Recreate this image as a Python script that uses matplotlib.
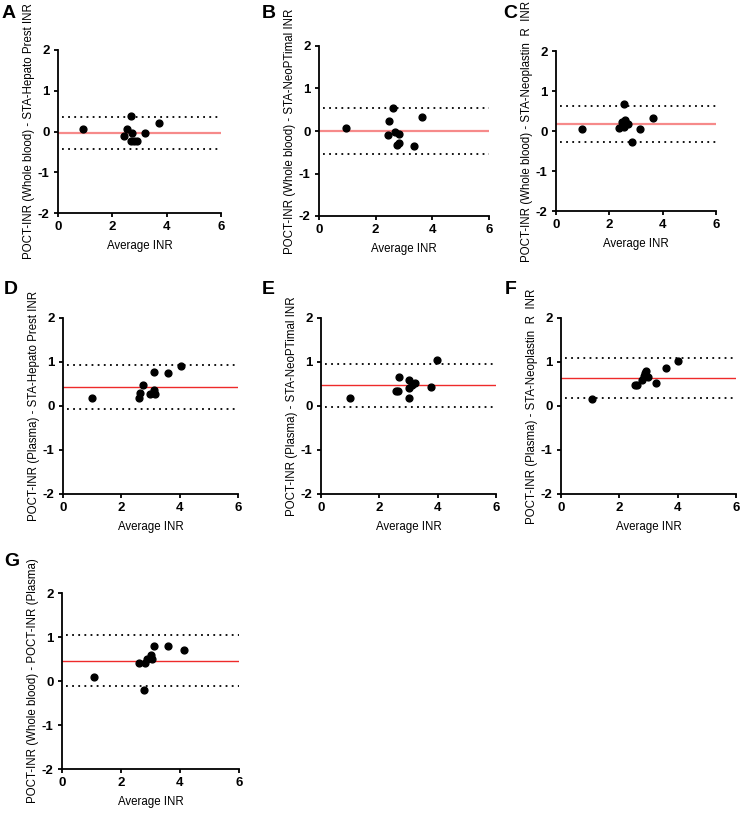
import matplotlib
matplotlib.use("Agg")
import matplotlib.pyplot as plt

plt.rcParams['font.family'] = ['Liberation Sans', 'DejaVu Sans']
plt.rcParams['axes.unicode_minus'] = False

# Bland-Altman data
a_avg = [0.93, 2.69, 3.70, 2.55, 2.71, 2.44, 3.22, 2.68, 2.79, 2.90]
a_diff = [0.07, 0.38, 0.20, 0.07, -0.03, -0.12, -0.04, -0.23, -0.23, -0.23]
a_lines = [-0.03, 0.36, -0.43]

b_avg = [0.94, 2.61, 2.46, 3.62, 2.42, 2.69, 2.81, 2.74, 2.84, 3.36]
b_diff = [0.06, 0.53, 0.24, 0.34, -0.09, -0.02, -0.07, -0.32, -0.28, -0.36]
b_lines = [0.0, 0.55, -0.55]

c_avg = [0.98, 2.56, 2.36, 2.48, 2.58, 2.71, 2.54, 3.16, 3.64, 2.84, 2.62]
c_diff = [0.06, 0.68, 0.08, 0.22, 0.27, 0.18, 0.09, 0.06, 0.32, -0.27, 0.20]
c_lines = [0.17, 0.62, -0.28]

d_avg = [1.01, 2.60, 2.65, 2.75, 3.12, 3.61, 4.03, 2.98, 3.11, 3.15]
d_diff = [0.18, 0.18, 0.30, 0.48, 0.77, 0.76, 0.90, 0.27, 0.37, 0.27]
d_lines = [0.44, 0.94, -0.07]

e_avg = [0.99, 2.68, 2.56, 2.64, 3.00, 3.00, 3.00, 3.13, 3.23, 3.77, 3.96]
e_diff = [0.18, 0.65, 0.33, 0.33, 0.60, 0.18, 0.42, 0.47, 0.53, 0.44, 1.05]
e_lines = [0.47, 0.95, -0.02]

f_avg = [1.07, 2.53, 2.59, 2.77, 2.85, 2.91, 2.88, 2.98, 3.25, 3.60, 4.00]
f_diff = [0.16, 0.47, 0.47, 0.60, 0.69, 0.80, 0.74, 0.66, 0.53, 0.86, 1.02]
f_lines = [0.64, 1.09, 0.18]

g_avg = [1.07, 2.79, 2.60, 2.82, 2.87, 3.00, 3.06, 3.11, 3.61, 4.15]
g_diff = [0.10, -0.20, 0.40, 0.40, 0.51, 0.60, 0.50, 0.80, 0.80, 0.70]
g_lines = [0.46, 1.04, -0.12]

labels = ['A', 'B', 'C', 'D', 'E', 'F', 'G']
ylabels = [
    'POCT-INR (Whole blood) - STA-Hepato Prest INR',
    'POCT-INR (Whole blood) - STA-NeoPTimal INR',
    'POCT-INR (Whole blood) - STA-Neoplastin  R  INR',
    'POCT-INR (Plasma) - STA-Hepato Prest INR',
    'POCT-INR (Plasma) - STA-NeoPTimal INR',
    'POCT-INR (Plasma) - STA-Neoplastin  R  INR',
    'POCT-INR (Whole blood) - POCT-INR (Plasma)',
]
panels = [(a_avg, a_diff, a_lines), (b_avg, b_diff, b_lines), (c_avg, c_diff, c_lines),
          (d_avg, d_diff, d_lines), (e_avg, e_diff, e_lines), (f_avg, f_diff, f_lines),
          (g_avg, g_diff, g_lines)]

W, H = 742, 816
# pixel boxes (left, top, right, bottom) of each plot area
boxes = [(58, 50, 221, 213), (319, 46, 489, 216), (556, 51, 716, 211),
         (63, 318, 238, 494), (321, 318, 496, 494), (561, 318, 736, 494),
         (62, 593, 239, 769)]
letter_pos = [(2, 5), (262, 5), (503, 5), (4, 281), (262, 281), (505, 281), (4, 553)]

fig = plt.figure(figsize=(W / 100, H / 100), dpi=100)

for i, (xs, ys, lines) in enumerate(panels):
    x0, y0, x1, y1 = boxes[i]
    ax = fig.add_axes([x0 / W, 1 - y1 / H, (x1 - x0) / W, (y1 - y0) / H])
    red = '#f68a8a' if i < 3 else '#ee2a2a'
    lw = 1.6 if i < 3 else 1.0
    ax.plot([0, 6], [lines[0]] * 2, color=red, lw=lw, zorder=1)
    for v in lines[1:]:
        ax.plot([0.15, 6], [v, v], color='black', lw=1.3,
                linestyle=(0, (1, 2.4)), zorder=1)
    ax.scatter(xs, ys, s=24, color='black', zorder=3, clip_on=False)
    ax.set_xlim(0, 6)
    ax.set_ylim(-2, 2)
    ax.set_xticks([0, 2, 4, 6])
    ax.set_yticks([-2, -1, 0, 1, 2])
    for s in ['top', 'right']:
        ax.spines[s].set_visible(False)
    for s in ['left', 'bottom']:
        ax.spines[s].set_linewidth(1.3)
    ax.tick_params(width=1.3, length=3, pad=3, labelsize=9.5)
    for t in ax.get_xticklabels() + ax.get_yticklabels():
        t.set_fontweight('bold')
    ax.set_xlabel('Average INR', fontsize=8.3, labelpad=5)
    ax.set_ylabel(ylabels[i], fontsize=8.3, labelpad=2)
    lx, ly = letter_pos[i]
    fig.text(lx / W, 1 - ly / H, labels[i],
             fontsize=14, fontweight='bold', va='top', ha='left')

fig.savefig('out.png', dpi=100)
